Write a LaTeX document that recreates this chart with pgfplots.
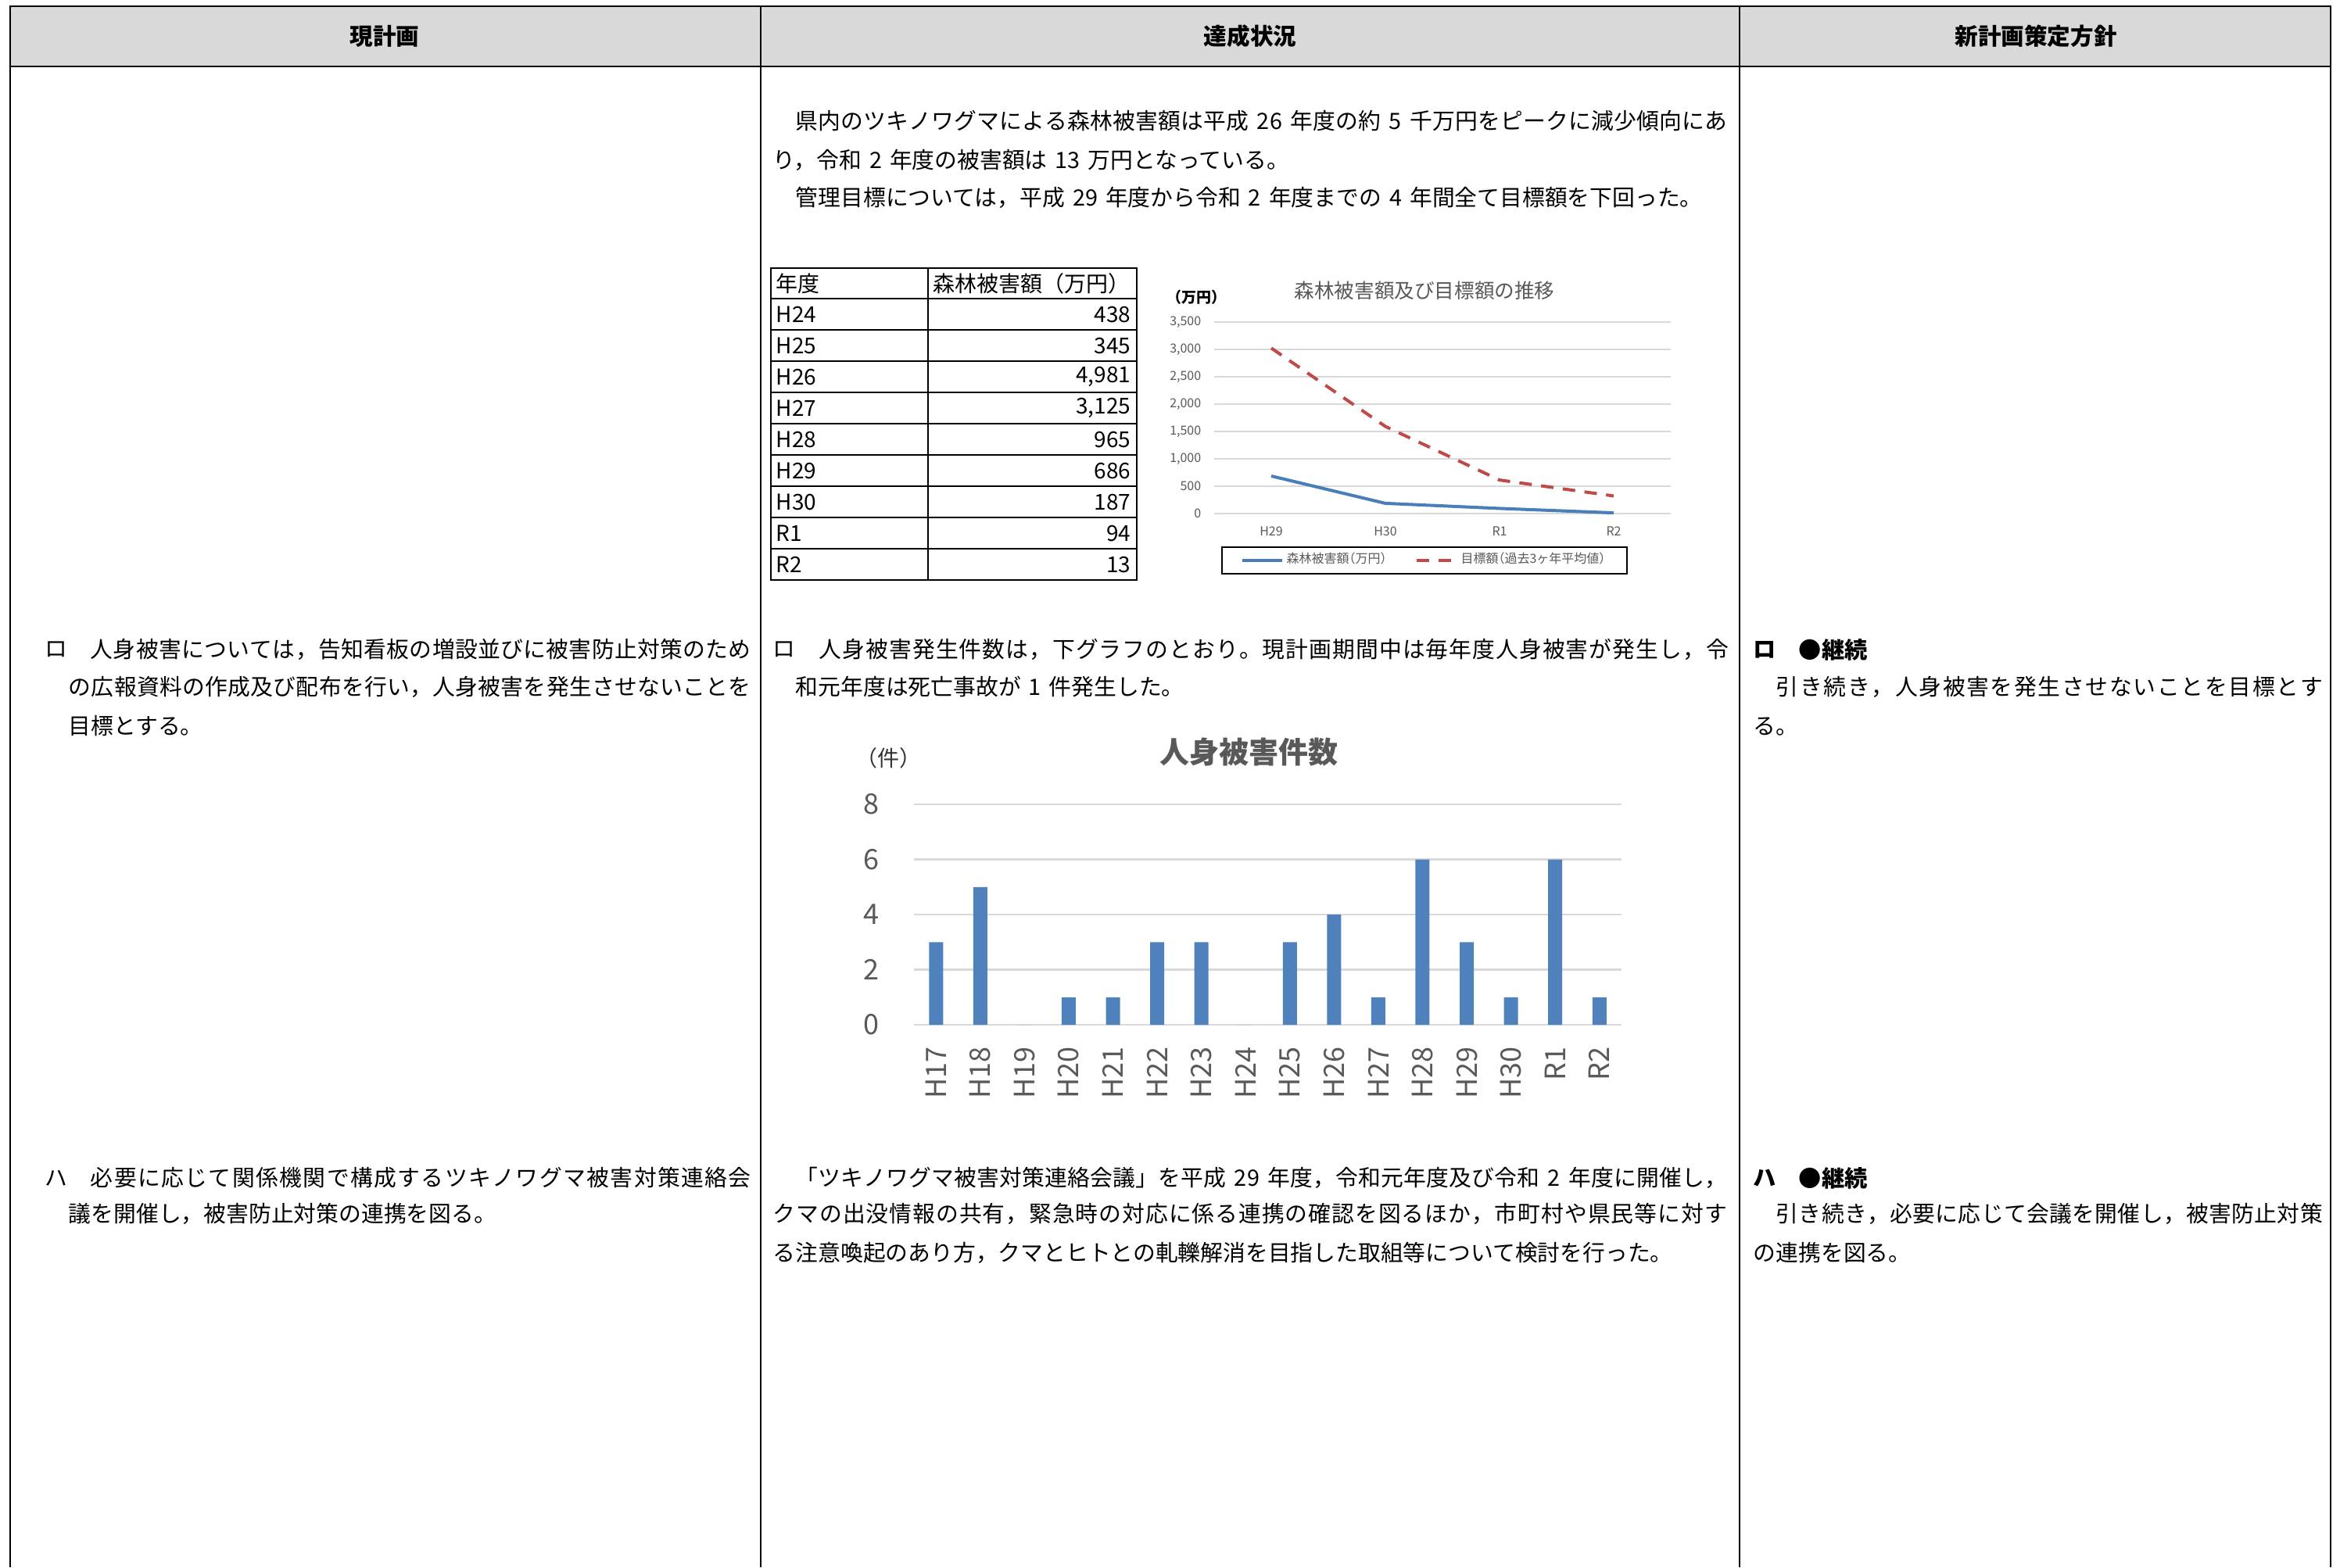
\documentclass[border=0pt]{standalone}
\usepackage{fontspec}
\setmainfont{Noto Sans CJK JP}
\newfontfamily\jph{Noto Sans CJK JP}[RawFeature=+halt]
\usepackage{pgfplots}
\pgfplotsset{compat=1.18}
\usepackage{pgfplotstable}

\definecolor{headgray}{HTML}{D9D9D9}
\definecolor{gridgray}{HTML}{D9D9D9}
\definecolor{labgray}{HTML}{595959}
\definecolor{lineblue}{HTML}{4A7EBB}
\definecolor{linered}{HTML}{BE4B48}
\definecolor{barblue}{HTML}{4F81BD}

\newcommand\hs{\hskip0.35em\relax}
% put glue between the characters of a line so it can be set to the cell width
\def\J#1{\Jfirst#1\relax}
\def\Jfirst#1{#1\Jloop}
\def\Jloop#1{\ifx#1\relax\else\hskip0pt plus 1fil minus 2pt\relax#1\expandafter\Jloop\fi}

\tikzset{tx/.style={anchor=west, inner sep=0pt, font=\fontsize{7.2}{9}\selectfont}}
% natural line / justified line / bold line, coordinates in pixels
\newcommand\Tx[3]{\node[tx] at (#1,#2) {#3};}
\newcommand\Tj[4]{\pgfmathsetmacro\w{(#3-#1)*0.25}\node[tx] at (#1,#2) {\hbox to \w pt{\J{#4}}};}
\newcommand\Tb[3]{\node[tx, font=\bfseries\fontsize{7.3}{9}\selectfont] at (#1,#2) {#3};}

% damage (10,000 yen) and target (mean of the 3 previous years)
\pgfplotstableread{
i dmg tgt
0 686 3024
1 187 1592
2 94  613
3 13  322
}\lcdata

% personal injuries per fiscal year, H17 ... R2
\pgfplotstableread{
i n
0 3
1 5
2 0
3 1
4 1
5 3
6 3
7 0
8 3
9 4
10 1
11 6
12 3
13 1
14 6
15 1
}\bcdata

\begin{document}
\begin{tikzpicture}
\path[use as bounding box, fill=white] (0,0) rectangle (748.25pt,-501.25pt);

\begin{scope}[x=0.25pt,y=-0.25pt]
% ---- outer table
\fill[headgray] (13,8) rectangle (2981,85);
\draw[line width=0.7pt] (13,2005) -- (13,8) -- (2981,8) -- (2981,2005);
\draw[line width=0.7pt] (13,85) -- (2981,85);
\draw[line width=0.4pt] (973,8) -- (973,2005) (2225,8) -- (2225,2005);

\foreach \cx/\t in {492/現計画, 1599/達成状況, 2604/新計画策定方針}
  \node[inner sep=0pt, font=\bfseries\fontsize{7.4}{9}\selectfont] at (\cx,46) {\t};

% ---- column 1
\Tx{57}{831}{ロ}
\Tj{115}{831}{960}{人身被害については，告知看板の増設並びに被害防止対策のため}
\Tj{87}{879}{960}{の広報資料の作成及び配布を行い，人身被害を発生させないことを}
\Tx{87}{929}{目標とする。}
\Tx{57}{1507}{ハ}
\Tj{115}{1507}{960}{必要に応じて関係機関で構成するツキノワグマ被害対策連絡会}
\Tx{87}{1553}{議を開催し，被害防止対策の連携を図る。}

% ---- column 2
\Tj{1017}{155}{2208}{県内のツキノワグマによる森林被害額は平成\hs 26\hs 年度の約\hs 5\hs 千万円をピークに減少傾向にあ}
\Tx{988}{205}{り，令和\hs 2\hs 年度の被害額は\hs 13\hs 万円となっている。}
\Tx{1017}{253}{管理目標については，平成\hs 29\hs 年度から令和\hs 2\hs 年度までの\hs 4\hs 年間全て目標額を下回った。}
\Tx{988}{831}{ロ}
\Tj{1047}{831}{2210}{人身被害発生件数は，下グラフのとおり。現計画期間中は毎年度人身被害が発生し，令}
\Tx{1017}{879}{和元年度は死亡事故が\hs 1\hs 件発生した。}
\Tj{1017}{1507}{2208}{「ツキノワグマ被害対策連絡会議」を平成\hs 29\hs 年度，令和元年度及び令和\hs 2\hs 年度に開催し，}
\Tj{988}{1553}{2208}{クマの出没情報の共有，緊急時の対応に係る連携の確認を図るほか，市町村や県民等に対す}
\Tx{988}{1603}{る注意喚起のあり方，クマとヒトとの軋轢解消を目指した取組等について検討を行った。}

% ---- column 3
\Tb{2242}{831}{ロ}
\Tb{2300}{831}{●継続}
\Tj{2271}{879}{2970}{引き続き，人身被害を発生させないことを目標とす}
\Tx{2242}{929}{る。}
\Tb{2242}{1507}{ハ}
\Tb{2300}{1507}{●継続}
\Tj{2271}{1553}{2970}{引き続き，必要に応じて会議を開催し，被害防止対策}
\Tx{2242}{1603}{の連携を図る。}

% ---- small table of damage
\draw[line width=0.45pt] (986,343) rectangle (1454,742);
\draw[line width=0.45pt] (1187,343) -- (1187,742);
\foreach \yy in {382,422,...,702} \draw[line width=0.45pt] (986,\yy) -- (1454,\yy);
\node[tx, font=\fontsize{7}{8}\selectfont] at (992,363) {年度};
\node[tx, font=\fontsize{7}{8}\selectfont] at (1193,363) {森林被害額（万円）};
\foreach \lab/\val [count=\k] in {H24/438, H25/345, H26/{4,981}, H27/{3,125}, H28/965, H29/686, H30/187, R1/94, R2/13} {
  \node[tx, font=\fontsize{7}{8}\selectfont] at (992,{402+40*(\k-1)}) {\lab};
  \node[anchor=east, inner sep=0pt, font=\fontsize{7}{8}\selectfont] at (1447,{402+40*(\k-1)}) {\val};
}

% ---- chart titles
\node[inner sep=0pt, font=\fontsize{6.4}{7}\selectfont, text=labgray] at (1822,372) {森林被害額及び目標額の推移};
\node[inner sep=0pt, font=\jph\bfseries\fontsize{4.75}{5}\selectfont] at (1530,380) {（万円）};
\node[inner sep=0pt, font=\bfseries\fontsize{9.5}{11}\selectfont, text=labgray] at (1597,962) {人身被害件数};
\node[inner sep=0pt, font=\jph\fontsize{7}{8}\selectfont, text=black!80] at (1136,970) {（件）};

\coordinate (lc) at (1553,412);
\coordinate (bc) at (1169,1029);
\end{scope}

% ---- line chart
\begin{axis}[
  at={(lc)}, anchor=north west,
  scale only axis, width=146pt, height=61.25pt,
  xmin=-0.5, xmax=3.5, ymin=0, ymax=3500,
  xtick={0,1,2,3}, xticklabels={H29,H30,R1,R2},
  ytick={0,500,...,3500},
  scaled y ticks=false,
  /pgf/number format/assume math mode=true,
  /pgf/number format/1000 sep={,},
  axis line style={draw=none}, major tick length=0pt,
  ymajorgrids, grid style={draw=gridgray, line width=0.4pt},
  tick label style={font=\fontsize{4}{5}\selectfont, text=labgray},
  yticklabel style={anchor=east, inner sep=0pt, xshift=-4pt},
  xticklabel style={anchor=north, inner sep=0pt, yshift=-4pt},
  legend columns=2,
  legend image code/.code={\draw[#1, line width=1pt] (0pt,0pt) -- (12.75pt,0pt);},
  legend style={at={(0.4606,-0.243)}, anchor=center, draw=black, line width=0.5pt,
    fill=white, font=\jph\fontsize{4}{5}\selectfont, text=labgray,
    inner xsep=6pt, inner ysep=1pt,
    nodes={inner xsep=1pt, inner ysep=0.8pt},
    /tikz/every even column/.append style={column sep=8pt}},
]
\addplot[lineblue, line width=1pt, line join=round] table[x=i, y=dmg] {\lcdata};
\addlegendentry{森林被害額（万円）}
\addplot[linered, line width=1pt, dash pattern=on 4pt off 3pt] table[x=i, y=tgt] {\lcdata};
\addlegendentry{目標額（過去3ヶ年平均値）}
\end{axis}

% ---- bar chart
\begin{axis}[
  at={(bc)}, anchor=north west,
  scale only axis, width=226.25pt, height=70.5pt,
  ybar, bar width=4.5pt,
  xmin=-0.5, xmax=15.5, ymin=0, ymax=8,
  xtick={0,...,15},
  xticklabels={H17,H18,H19,H20,H21,H22,H23,H24,H25,H26,H27,H28,H29,H30,R1,R2},
  ytick={0,2,...,8},
  /pgf/number format/assume math mode=true,
  axis line style={draw=none}, major tick length=0pt,
  ymajorgrids, grid style={draw=gridgray, line width=0.6pt},
  tick label style={font=\fontsize{9}{10}\selectfont, text=labgray},
  yticklabel style={anchor=east, inner sep=0pt, xshift=-11pt},
  xticklabel style={yshift=-7pt, rotate=90, anchor=east, inner sep=0pt},
]
\addplot[fill=barblue, draw=none] table[x=i, y=n] {\bcdata};
\end{axis}
\end{tikzpicture}
\end{document}
